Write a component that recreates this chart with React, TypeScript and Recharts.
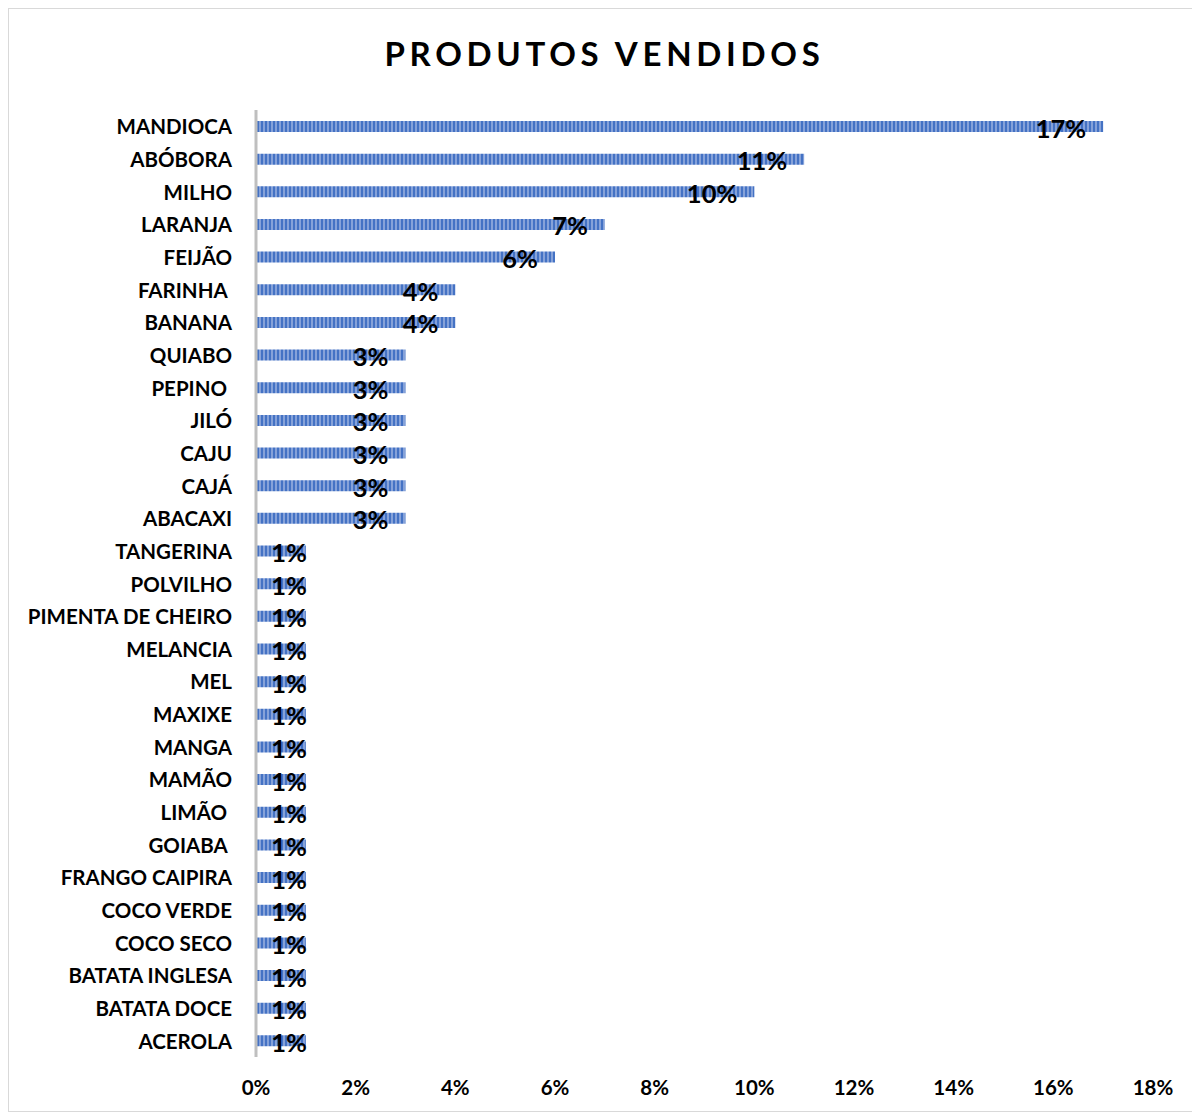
import { BarChart, Bar, XAxis, YAxis, LabelList } from "recharts";

const products = [
  "MANDIOCA", "ABÓBORA", "MILHO", "LARANJA", "FEIJÃO", "FARINHA ", "BANANA",
  "QUIABO", "PEPINO ", "JILÓ", "CAJU", "CAJÁ", "ABACAXI", "TANGERINA",
  "POLVILHO", "PIMENTA DE CHEIRO", "MELANCIA", "MEL", "MAXIXE", "MANGA",
  "MAMÃO", "LIMÃO ", "GOIABA ", "FRANGO CAIPIRA", "COCO VERDE", "COCO SECO",
  "BATATA INGLESA", "BATATA DOCE", "ACEROLA",
];
const shares = [
  17, 11, 10, 7, 6, 4, 4, 3, 3, 3, 3, 3, 3, 1, 1, 1, 1, 1, 1, 1, 1, 1, 1, 1, 1,
  1, 1, 1, 1,
];
const xTicks = [0, 2, 4, 6, 8, 10, 12, 14, 16, 18];

const data = products.map((name, i) => ({ name, value: shares[i] }));

const FONT = "Lato, 'Open Sans', sans-serif";

const YTick = (props: any) => {
  const { x, y, payload } = props;
  return (
    <text
      x={x - 16}
      y={y}
      dy={8}
      textAnchor="end"
      fontFamily={FONT}
      fontWeight={700}
      fontSize={20.5}
      fill="#000"
      style={{ whiteSpace: "pre" }}
    >
      {payload.value}
    </text>
  );
};

const XTick = (props: any) => {
  const { x, y, payload } = props;
  return (
    <text
      x={x}
      y={y + 23}
      dy={7}
      textAnchor="middle"
      fontFamily={FONT}
      fontWeight={700}
      fontSize={20.5}
      fill="#000"
    >
      {`${payload.value}%`}
    </text>
  );
};

const renderLabel = (props: any) => {
  const { x, y, width, height, value } = props;
  const right = width > 60 ? x + width - 17 : x + width + 1;
  return (
    <text
      x={right}
      y={y + height / 2}
      dy={11}
      textAnchor="end"
      fontFamily={FONT}
      fontWeight={700}
      fontSize={25.5}
      fill="#000"
    >
      {`${value}%`}
    </text>
  );
};

export default function App() {
  return (
    <div
      style={{
        position: "relative",
        width: 1191,
        height: 1102,
        borderTop: "1px solid #d9d9d9",
        borderLeft: "1px solid #d9d9d9",
        borderBottom: "1px solid #d9d9d9",
        background: "#fff",
      }}
    >
      <div
        style={{
          position: "absolute",
          top: 24,
          left: 0,
          width: 1191,
          textAlign: "center",
          fontFamily: FONT,
          fontWeight: 700,
          fontSize: 33,
          letterSpacing: 4.7,
          color: "#000",
        }}
      >
        PRODUTOS VENDIDOS
      </div>
      <BarChart
        width={1191}
        height={1102}
        data={data}
        layout="vertical"
        margin={{ top: 101, right: 47, left: 0, bottom: 0 }}
      >
        <defs>
          <pattern id="stripes" width="4" height="4" patternUnits="userSpaceOnUse">
            <rect width="4" height="4" fill="#86a2d9" />
            <rect width="2" height="4" fill="#4472c4" />
          </pattern>
        </defs>
        <XAxis
          type="number"
          domain={[0, 18]}
          ticks={xTicks}
          axisLine={false}
          tickLine={false}
          height={54}
          tick={<XTick />}
        />
        <YAxis
          type="category"
          dataKey="name"
          width={247}
          axisLine={{ stroke: "#bfbfbf", strokeWidth: 3 }}
          tickLine={false}
          interval={0}
          tick={<YTick />}
        />
        <Bar dataKey="value" fill="url(#stripes)" barSize={11} isAnimationActive={false}>
          <LabelList dataKey="value" content={renderLabel} />
        </Bar>
      </BarChart>
    </div>
  );
}
